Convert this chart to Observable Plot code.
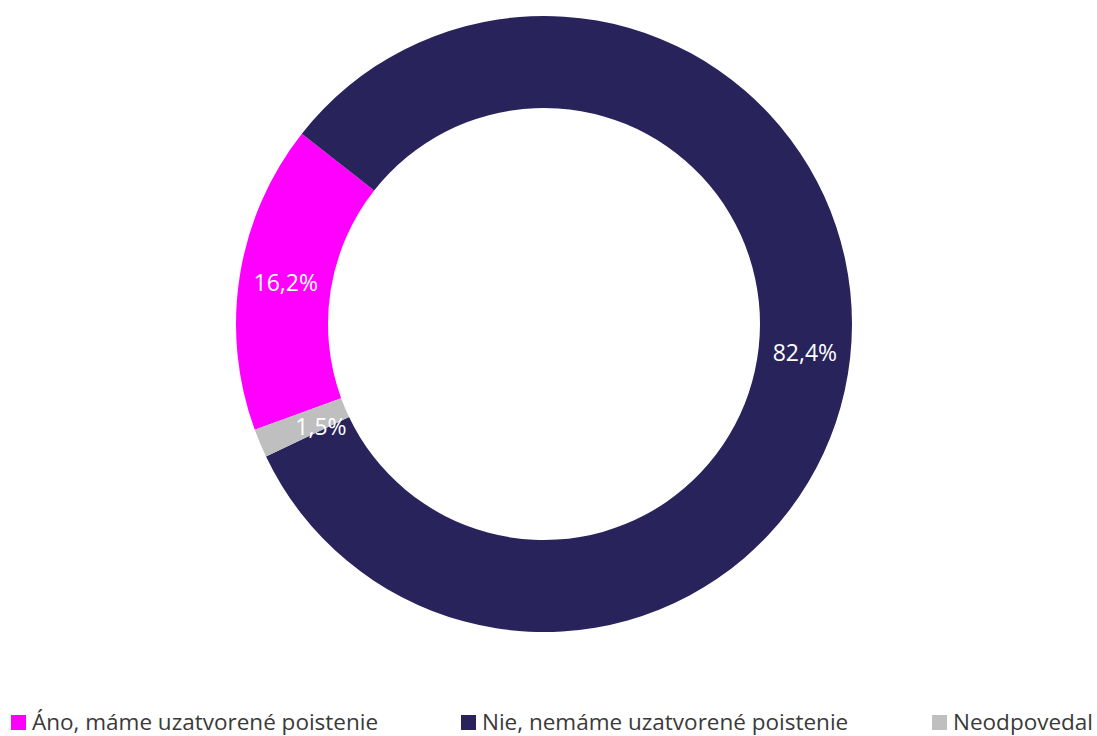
<!DOCTYPE html>
<html>
<head>
<meta charset="utf-8">
<script src="https://cdn.jsdelivr.net/npm/d3@7"></script>
<script src="https://cdn.jsdelivr.net/npm/@observablehq/plot@0.6"></script>
<style>
  html, body { margin: 0; padding: 0; background: #fff; }
  #wrap { position: relative; width: 1097px; height: 736px; overflow: hidden; font-family: "Open Sans", "Noto Sans", sans-serif; }
  #chart svg { display: block; }
  #legend { display: block; }
</style>
</head>
<body>
<div id="wrap">
  <div id="chart"></div>
  <svg id="legend" width="1097" height="36"></svg>
</div>
<script>
const categories = ["Áno, máme uzatvorené poistenie", "Nie, nemáme uzatvorené poistenie", "Neodpovedal"];
const values = [16.2, 82.4, 1.5];
const labels = ["16,2%", "82,4%", "1,5%"];
const colors = ["#FF00FF", "#29235C", "#BFBFBF"];
const startDeg = 249.9;      // rotation of first slice (clockwise from top)
const innerRatio = 216 / 308;

const data = categories.map((c, i) => ({category: c, value: values[i], label: labels[i]}));
const start = startDeg * Math.PI / 180;
const arcs = d3.pie().sort(null).value(d => d.value).startAngle(start).endAngle(start + 2 * Math.PI)(data);
const rMid = (1 + innerRatio) / 2;
const labelData = arcs.map(a => {
  const m = (a.startAngle + a.endAngle) / 2;
  return {...a.data, x: rMid * Math.sin(m), y: rMid * Math.cos(m)};
});

function donut(index, scales, values, dimensions, context) {
  const cx = scales.x(0), cy = scales.y(0);
  const R = scales.x(1) - scales.x(0);
  const arc = d3.arc().innerRadius(R * innerRatio).outerRadius(R);
  const g = d3.create("svg:g").attr("transform", `translate(${cx},${cy})`);
  g.selectAll("path").data(arcs).join("path")
    .attr("d", arc)
    .attr("fill", d => scales.color(d.data.category));
  return g.node();
}

const chart = Plot.plot({
  width: 1097,
  height: 700,
  margin: 0,
  x: {domain: [-544 / 308, 553 / 308], axis: null},
  y: {domain: [-376 / 308, 324 / 308], axis: null},
  color: {domain: categories, range: colors},
  style: {fontFamily: "'Open Sans', 'Noto Sans', sans-serif", background: "white"},
  marks: [
    donut,
    Plot.text(labelData.filter(d => d.value >= 5), {x: "x", y: "y", text: "label", fill: "white", fontSize: 23}),
    Plot.text(labelData.filter(d => d.value < 5), {x: "x", y: "y", text: "label", fill: "white", fontSize: 23, dx: 18, dy: 2})
  ]
});
document.getElementById("chart").appendChild(chart);

const legendX = [11, 461, 932];
const legend = d3.select("#legend");
categories.forEach((c, i) => {
  legend.append("rect").attr("x", legendX[i]).attr("y", 15).attr("width", 15).attr("height", 15).attr("fill", colors[i]);
  legend.append("text").attr("x", legendX[i] + 21).attr("y", 30)
    .attr("font-family", "'Open Sans', 'Noto Sans', sans-serif")
    .attr("font-size", 22.5).attr("fill", "#3a3a3a").text(c);
});
</script>
</body>
</html>
